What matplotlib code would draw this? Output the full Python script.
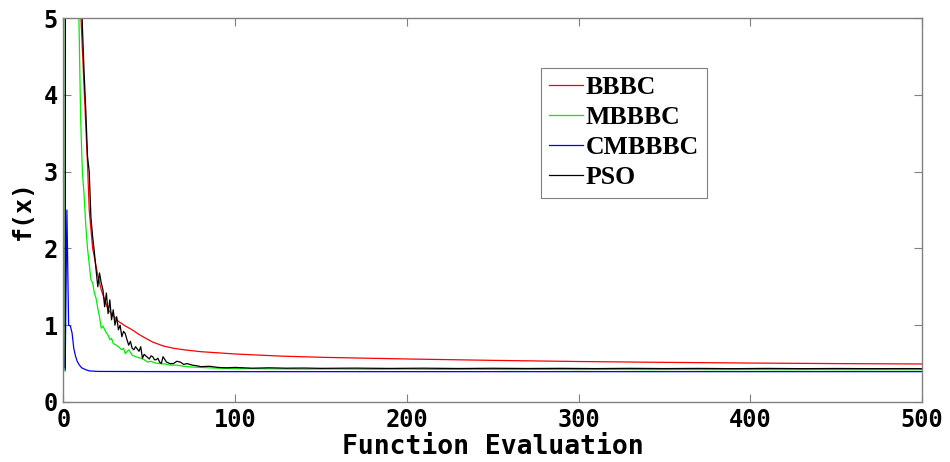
import matplotlib
matplotlib.use('Agg')
import matplotlib.pyplot as plt

# Convergence curves (best f(x) per function evaluation)
bbbc_x = [1, 4, 7, 10, 12, 14, 15, 17, 20, 22, 26, 32, 36, 40, 44, 47, 52,
          58, 64, 70, 80, 100, 126, 150, 200, 250, 300, 350, 400, 450, 500]
bbbc_y = [60.0, 25.0, 10.0, 5.1, 4.1, 3.1, 2.5, 2.0, 1.65, 1.46, 1.2, 1.05,
          0.99, 0.94, 0.88, 0.84, 0.78, 0.73, 0.70, 0.68, 0.655, 0.625,
          0.598, 0.582, 0.56, 0.542, 0.527, 0.516, 0.507, 0.50, 0.495]

mbbbc_x = [1, 2, 5, 8, 9, 10, 11, 12, 13, 14, 15, 16, 17, 18, 19, 20, 21, 22,
           23, 24, 25, 26, 27, 28, 29, 30, 32, 34, 35, 36, 38, 40, 42, 45, 47,
           49, 51, 53, 56, 59, 62, 66, 70, 75, 80, 90, 100, 120, 140, 160, 180,
           200, 220, 240, 260, 280, 300, 320, 340, 360, 380, 400, 420, 440,
           460, 480, 500]
mbbbc_y = [0.40, 35.0, 12.0, 6.2, 5.0, 3.7, 3.0, 2.7, 2.3, 2.0, 1.8, 1.59,
           1.55, 1.42, 1.35, 1.22, 1.11, 0.96, 0.99, 0.94, 0.90, 0.87, 0.81,
           0.83, 0.76, 0.75, 0.72, 0.68, 0.70, 0.63, 0.68, 0.61, 0.59, 0.57,
           0.55, 0.52, 0.53, 0.51, 0.50, 0.495, 0.48, 0.48, 0.465, 0.455, 0.45,
           0.44, 0.435, 0.432, 0.428, 0.43, 0.426, 0.428, 0.424, 0.426, 0.423,
           0.425, 0.422, 0.424, 0.421, 0.423, 0.421, 0.422, 0.420, 0.422,
           0.420, 0.421, 0.420]

cmbbbc_x = [1, 2, 3, 4, 5, 6, 7, 8, 9, 10, 11, 13, 15, 20, 50, 100, 200,
            300, 400, 500]
cmbbbc_y = [0.42, 2.5, 1.0, 0.99, 0.9, 0.7, 0.6, 0.53, 0.49, 0.46, 0.44,
            0.42, 0.405, 0.398, 0.396, 0.395, 0.395, 0.395, 0.395, 0.395]

pso_x = [1, 2, 6, 9, 11, 12, 13, 14, 15, 16, 17, 18, 19, 20, 21, 22, 23, 24,
         25, 26, 27, 28, 29, 30, 31, 32, 33, 34, 35, 36, 37, 38, 39, 40, 41,
         42, 43, 44, 45, 46, 47, 48, 49, 50, 51, 52, 53, 54, 55, 56, 57, 58,
         60, 62, 64, 66, 68, 70, 72, 75, 78, 80, 85, 90, 95, 100, 110, 120,
         130, 140, 150, 170, 190, 210, 230, 250, 270, 290, 310, 330, 350, 370,
         390, 410, 430, 450, 470, 490, 500]
pso_y = [0.45, 40.0, 12.0, 7.0, 4.9, 4.3, 3.8, 3.2, 3.0, 2.4, 2.15, 1.95,
         1.72, 1.50, 1.68, 1.55, 1.46, 1.24, 1.42, 1.15, 1.33, 1.07, 1.20,
         1.0, 1.11, 0.94, 1.0, 0.85, 0.92, 0.89, 0.81, 0.74, 0.79, 0.70, 0.68,
         0.72, 0.69, 0.66, 0.72, 0.57, 0.62, 0.60, 0.58, 0.56, 0.60, 0.59,
         0.55, 0.55, 0.57, 0.52, 0.50, 0.59, 0.52, 0.50, 0.50, 0.53, 0.52,
         0.49, 0.50, 0.48, 0.47, 0.46, 0.465, 0.45, 0.445, 0.45, 0.44, 0.445,
         0.44, 0.442, 0.438, 0.441, 0.437, 0.440, 0.436, 0.439, 0.436, 0.438,
         0.435, 0.438, 0.435, 0.437, 0.434, 0.437, 0.434, 0.436, 0.434,
         0.435, 0.434]

x_ticks = [0, 100, 200, 300, 400, 500]
y_ticks = [0, 1, 2, 3, 4, 5]

fig = plt.figure(figsize=(9.5, 4.62), dpi=100)
ax = fig.add_axes([0.0668, 0.1299, 0.9037, 0.8311])

ax.plot(bbbc_x, bbbc_y, color='#ff0000', lw=0.9, label='BBBC')
ax.plot(mbbbc_x, mbbbc_y, color='#00ee00', lw=0.9, label='MBBBC')
ax.plot(cmbbbc_x, cmbbbc_y, color='#0000ff', lw=0.9, label='CMBBBC')
ax.plot(pso_x, pso_y, color='#000000', lw=0.9, label='PSO')

ax.set_xlim(0, 500)
ax.set_ylim(0, 5)
ax.set_xticks(x_ticks)
ax.set_yticks(y_ticks)

mono = {'family': 'DejaVu Sans Mono', 'weight': 'bold'}
ax.set_xticklabels([str(t) for t in x_ticks], fontdict=dict(mono, size=17))
ax.set_yticklabels([str(t) for t in y_ticks], fontdict=dict(mono, size=17))
ax.tick_params(direction='in', length=6, width=0.8, color='#808080',
               top=True, right=True, pad=4)
for s in ax.spines.values():
    s.set_color('#808080')
    s.set_linewidth(1.0)

ax.set_xlabel('Function Evaluation', fontdict=dict(mono, size=19), labelpad=2)
ax.set_ylabel('f(x)', fontdict=dict(mono, size=18), labelpad=6)

leg = ax.legend(loc='upper left', bbox_to_anchor=(0.556, 0.870),
                borderaxespad=0,
                prop={'family': 'Liberation Serif', 'weight': 'bold', 'size': 18.5},
                handlelength=1.3, handletextpad=0.12, labelspacing=0.27,
                borderpad=0.33, fancybox=False, framealpha=1)
leg.get_frame().set_edgecolor('#808080')
leg.get_frame().set_linewidth(0.8)

fig.savefig('out.png', dpi=100)
